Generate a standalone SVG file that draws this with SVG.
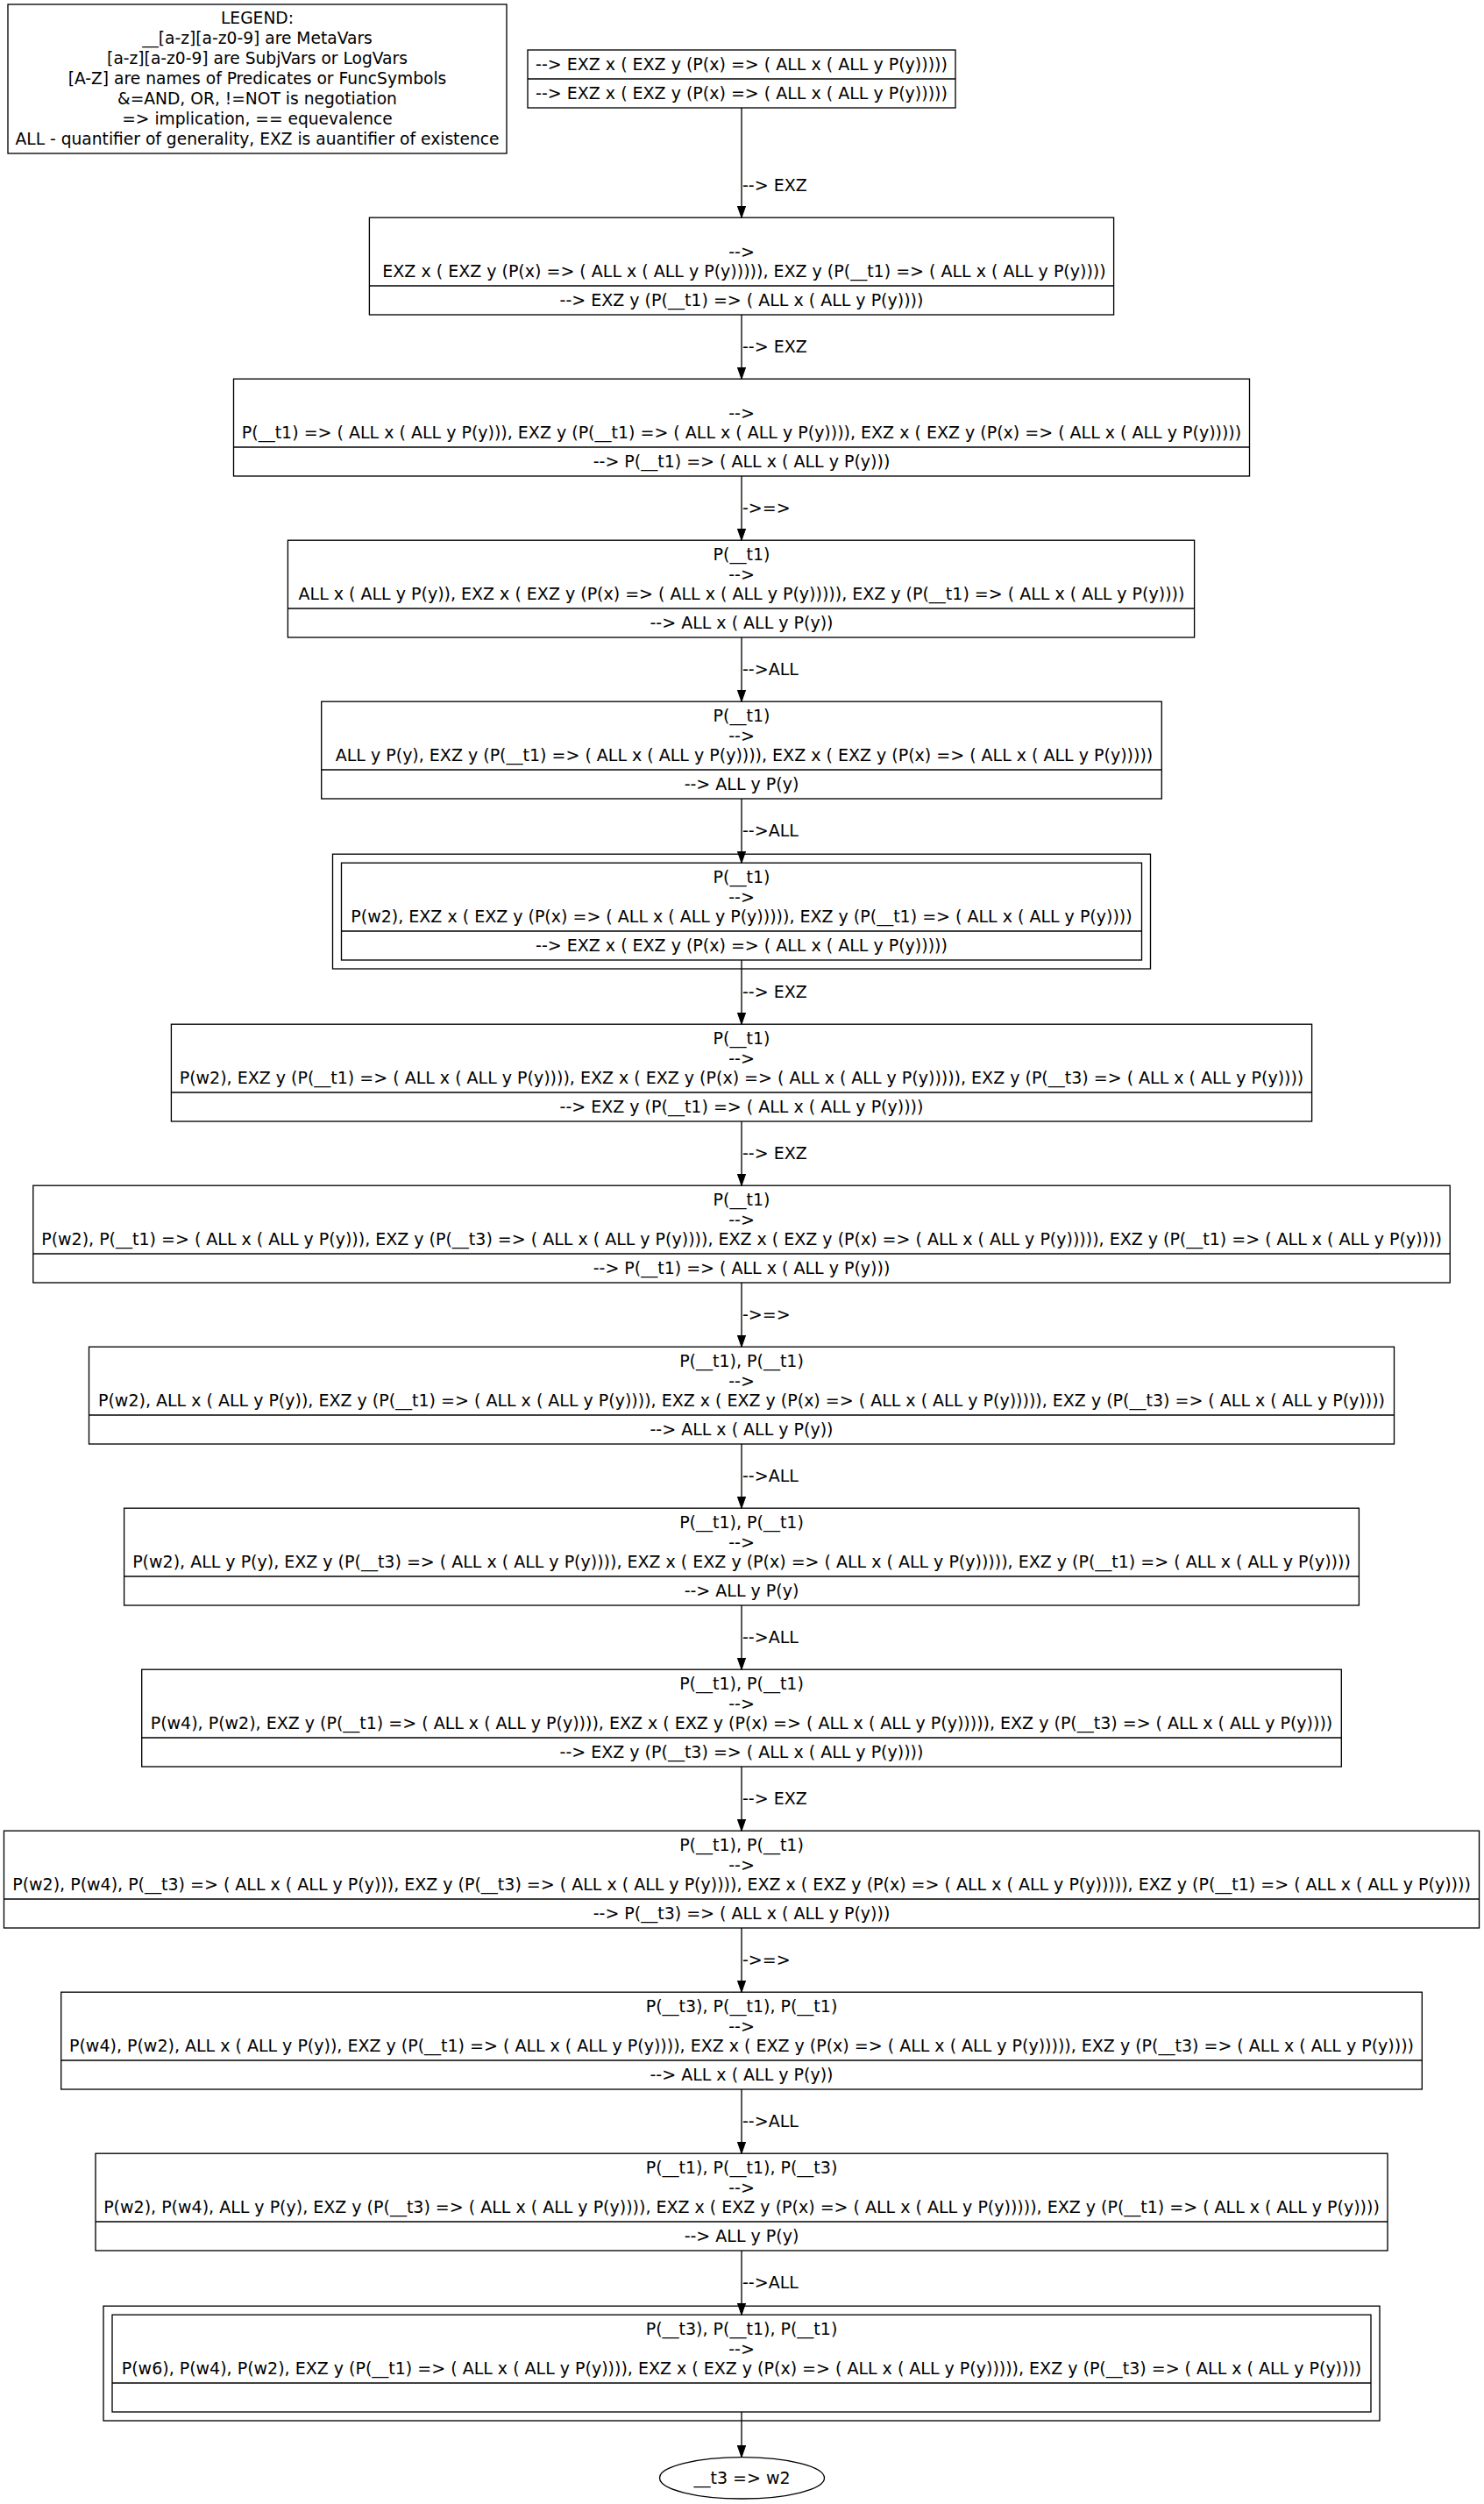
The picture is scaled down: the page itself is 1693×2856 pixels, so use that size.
<svg xmlns="http://www.w3.org/2000/svg" width="1693" height="2856" viewBox="0 0 1693 2856">
<defs>
<marker id="arr" markerUnits="userSpaceOnUse" markerWidth="14" markerHeight="10" refX="13.3" refY="4.67" orient="auto">
<path d="M0,0 L13.3,4.67 L0,9.33 z" fill="#000" stroke="#000" stroke-width="1"/>
</marker>
<style>
text{font-family:"DejaVu Sans","Liberation Sans",sans-serif;font-size:19px;fill:#000}
#legend text{font-size:18.67px}
.c{text-anchor:middle}
.box{fill:#fff;stroke:#000;stroke-width:1.33}
.ln{stroke:#000;stroke-width:1.33;fill:none}
.e{stroke:#000;stroke-width:1.33;fill:none;marker-end:url(#arr)}
</style>
</defs>
<rect x="0" y="0" width="1693" height="2856" fill="#fff"/>

<g id="legend">
<rect class="box" x="9" y="5" width="569" height="170"/>
<text class="c" x="293.5" y="26.5">LEGEND:</text>
<text class="c" x="293.5" y="49.6">__[a-z][a-z0-9] are MetaVars</text>
<text class="c" x="293.5" y="72.7">[a-z][a-z0-9] are SubjVars or LogVars</text>
<text class="c" x="293.5" y="95.8">[A-Z] are names of Predicates or FuncSymbols</text>
<text class="c" x="293.5" y="118.9">&amp;=AND, OR, !=NOT is negotiation</text>
<text class="c" x="293.5" y="142">=&gt; implication, == equevalence</text>
<text class="c" x="293.5" y="165.1">ALL - quantifier of generality, EXZ is auantifier of existence</text>
</g>

<g id="n1">
<rect class="box" x="602" y="57" width="488" height="66"/>
<line class="ln" x1="602" y1="90" x2="1090" y2="90"/>
<text class="c" x="846" y="80">--&gt; EXZ x ( EXZ y (P(x) =&gt; ( ALL x ( ALL y P(y)))))</text>
<text class="c" x="846" y="113">--&gt; EXZ x ( EXZ y (P(x) =&gt; ( ALL x ( ALL y P(y)))))</text>
</g>

<g id="n2">
<rect class="box" x="421.4" y="248.2" width="849.2" height="110.8"/>
<line class="ln" x1="421.4" y1="326" x2="1270.6" y2="326"/>
<text class="c" x="846" y="293.6">--&gt;</text>
<text class="c" x="849" y="316">EXZ x ( EXZ y (P(x) =&gt; ( ALL x ( ALL y P(y))))), EXZ y (P(__t1) =&gt; ( ALL x ( ALL y P(y))))</text>
<text class="c" x="846" y="349">--&gt; EXZ y (P(__t1) =&gt; ( ALL x ( ALL y P(y))))</text>
</g>

<g id="n3">
<rect class="box" x="266.5" y="432.2" width="1159" height="110.8"/>
<line class="ln" x1="266.5" y1="510" x2="1425.5" y2="510"/>
<text class="c" x="846" y="477.6">--&gt;</text>
<text class="c" x="846" y="500">P(__t1) =&gt; ( ALL x ( ALL y P(y))), EXZ y (P(__t1) =&gt; ( ALL x ( ALL y P(y)))), EXZ x ( EXZ y (P(x) =&gt; ( ALL x ( ALL y P(y)))))</text>
<text class="c" x="846" y="533">--&gt; P(__t1) =&gt; ( ALL x ( ALL y P(y)))</text>
</g>

<g id="n4">
<rect class="box" x="328.4" y="616.2" width="1034.2" height="110.8"/>
<line class="ln" x1="328.4" y1="694" x2="1362.6" y2="694"/>
<text class="c" x="846" y="639.2">P(__t1)</text>
<text class="c" x="846" y="661.6">--&gt;</text>
<text class="c" x="846" y="684">ALL x ( ALL y P(y)), EXZ x ( EXZ y (P(x) =&gt; ( ALL x ( ALL y P(y))))), EXZ y (P(__t1) =&gt; ( ALL x ( ALL y P(y))))</text>
<text class="c" x="846" y="717">--&gt; ALL x ( ALL y P(y))</text>
</g>

<g id="n5">
<rect class="box" x="366.7" y="800.2" width="958.6" height="110.8"/>
<line class="ln" x1="366.7" y1="878" x2="1325.3" y2="878"/>
<text class="c" x="846" y="823.2">P(__t1)</text>
<text class="c" x="846" y="845.6">--&gt;</text>
<text class="c" x="849" y="868">ALL y P(y), EXZ y (P(__t1) =&gt; ( ALL x ( ALL y P(y)))), EXZ x ( EXZ y (P(x) =&gt; ( ALL x ( ALL y P(y)))))</text>
<text class="c" x="846" y="901">--&gt; ALL y P(y)</text>
</g>

<g id="n6">
<rect class="box" x="379.5" y="974.2" width="933" height="130.8"/>
<rect class="box" x="389.5" y="984.2" width="913" height="110.8"/>
<line class="ln" x1="389.5" y1="1062" x2="1302.5" y2="1062"/>
<text class="c" x="846" y="1007.2">P(__t1)</text>
<text class="c" x="846" y="1029.6">--&gt;</text>
<text class="c" x="846" y="1052">P(w2), EXZ x ( EXZ y (P(x) =&gt; ( ALL x ( ALL y P(y))))), EXZ y (P(__t1) =&gt; ( ALL x ( ALL y P(y))))</text>
<text class="c" x="846" y="1085">--&gt; EXZ x ( EXZ y (P(x) =&gt; ( ALL x ( ALL y P(y)))))</text>
</g>

<g id="n7">
<rect class="box" x="195.4" y="1168.2" width="1301.2" height="110.8"/>
<line class="ln" x1="195.4" y1="1246" x2="1496.6" y2="1246"/>
<text class="c" x="846" y="1191.2">P(__t1)</text>
<text class="c" x="846" y="1213.6">--&gt;</text>
<text class="c" x="846" y="1236">P(w2), EXZ y (P(__t1) =&gt; ( ALL x ( ALL y P(y)))), EXZ x ( EXZ y (P(x) =&gt; ( ALL x ( ALL y P(y))))), EXZ y (P(__t3) =&gt; ( ALL x ( ALL y P(y))))</text>
<text class="c" x="846" y="1269">--&gt; EXZ y (P(__t1) =&gt; ( ALL x ( ALL y P(y))))</text>
</g>

<g id="n8">
<rect class="box" x="37.8" y="1352.2" width="1616.4" height="110.8"/>
<line class="ln" x1="37.8" y1="1430" x2="1654.2" y2="1430"/>
<text class="c" x="846" y="1375.2">P(__t1)</text>
<text class="c" x="846" y="1397.6">--&gt;</text>
<text class="c" x="846" y="1420">P(w2), P(__t1) =&gt; ( ALL x ( ALL y P(y))), EXZ y (P(__t3) =&gt; ( ALL x ( ALL y P(y)))), EXZ x ( EXZ y (P(x) =&gt; ( ALL x ( ALL y P(y))))), EXZ y (P(__t1) =&gt; ( ALL x ( ALL y P(y))))</text>
<text class="c" x="846" y="1453">--&gt; P(__t1) =&gt; ( ALL x ( ALL y P(y)))</text>
</g>

<g id="n9">
<rect class="box" x="101.5" y="1536.2" width="1489" height="110.8"/>
<line class="ln" x1="101.5" y1="1614" x2="1590.5" y2="1614"/>
<text class="c" x="846" y="1559.2">P(__t1), P(__t1)</text>
<text class="c" x="846" y="1581.6">--&gt;</text>
<text class="c" x="846" y="1604">P(w2), ALL x ( ALL y P(y)), EXZ y (P(__t1) =&gt; ( ALL x ( ALL y P(y)))), EXZ x ( EXZ y (P(x) =&gt; ( ALL x ( ALL y P(y))))), EXZ y (P(__t3) =&gt; ( ALL x ( ALL y P(y))))</text>
<text class="c" x="846" y="1637">--&gt; ALL x ( ALL y P(y))</text>
</g>

<g id="n10">
<rect class="box" x="141.6" y="1720.2" width="1408.8" height="110.8"/>
<line class="ln" x1="141.6" y1="1798" x2="1550.4" y2="1798"/>
<text class="c" x="846" y="1743.2">P(__t1), P(__t1)</text>
<text class="c" x="846" y="1765.6">--&gt;</text>
<text class="c" x="846" y="1788">P(w2), ALL y P(y), EXZ y (P(__t3) =&gt; ( ALL x ( ALL y P(y)))), EXZ x ( EXZ y (P(x) =&gt; ( ALL x ( ALL y P(y))))), EXZ y (P(__t1) =&gt; ( ALL x ( ALL y P(y))))</text>
<text class="c" x="846" y="1821">--&gt; ALL y P(y)</text>
</g>

<g id="n11">
<rect class="box" x="161.7" y="1904.2" width="1368.6" height="110.8"/>
<line class="ln" x1="161.7" y1="1982" x2="1530.3" y2="1982"/>
<text class="c" x="846" y="1927.2">P(__t1), P(__t1)</text>
<text class="c" x="846" y="1949.6">--&gt;</text>
<text class="c" x="846" y="1972">P(w4), P(w2), EXZ y (P(__t1) =&gt; ( ALL x ( ALL y P(y)))), EXZ x ( EXZ y (P(x) =&gt; ( ALL x ( ALL y P(y))))), EXZ y (P(__t3) =&gt; ( ALL x ( ALL y P(y))))</text>
<text class="c" x="846" y="2005">--&gt; EXZ y (P(__t3) =&gt; ( ALL x ( ALL y P(y))))</text>
</g>

<g id="n12">
<rect class="box" x="4.5" y="2088.2" width="1683" height="110.8"/>
<line class="ln" x1="4.5" y1="2166" x2="1687.5" y2="2166"/>
<text class="c" x="846" y="2111.2">P(__t1), P(__t1)</text>
<text class="c" x="846" y="2133.6">--&gt;</text>
<text class="c" x="846" y="2156">P(w2), P(w4), P(__t3) =&gt; ( ALL x ( ALL y P(y))), EXZ y (P(__t3) =&gt; ( ALL x ( ALL y P(y)))), EXZ x ( EXZ y (P(x) =&gt; ( ALL x ( ALL y P(y))))), EXZ y (P(__t1) =&gt; ( ALL x ( ALL y P(y))))</text>
<text class="c" x="846" y="2189">--&gt; P(__t3) =&gt; ( ALL x ( ALL y P(y)))</text>
</g>

<g id="n13">
<rect class="box" x="69.7" y="2272.2" width="1552.6" height="110.8"/>
<line class="ln" x1="69.7" y1="2350" x2="1622.3" y2="2350"/>
<text class="c" x="846" y="2295.2">P(__t3), P(__t1), P(__t1)</text>
<text class="c" x="846" y="2317.6">--&gt;</text>
<text class="c" x="846" y="2340">P(w4), P(w2), ALL x ( ALL y P(y)), EXZ y (P(__t1) =&gt; ( ALL x ( ALL y P(y)))), EXZ x ( EXZ y (P(x) =&gt; ( ALL x ( ALL y P(y))))), EXZ y (P(__t3) =&gt; ( ALL x ( ALL y P(y))))</text>
<text class="c" x="846" y="2373">--&gt; ALL x ( ALL y P(y))</text>
</g>

<g id="n14">
<rect class="box" x="109" y="2456.2" width="1474" height="110.8"/>
<line class="ln" x1="109" y1="2534" x2="1583" y2="2534"/>
<text class="c" x="846" y="2479.2">P(__t1), P(__t1), P(__t3)</text>
<text class="c" x="846" y="2501.6">--&gt;</text>
<text class="c" x="846" y="2524">P(w2), P(w4), ALL y P(y), EXZ y (P(__t3) =&gt; ( ALL x ( ALL y P(y)))), EXZ x ( EXZ y (P(x) =&gt; ( ALL x ( ALL y P(y))))), EXZ y (P(__t1) =&gt; ( ALL x ( ALL y P(y))))</text>
<text class="c" x="846" y="2557">--&gt; ALL y P(y)</text>
</g>

<g id="n15">
<rect class="box" x="118" y="2630.2" width="1456" height="130.8"/>
<rect class="box" x="128" y="2640.2" width="1436" height="110.8"/>
<line class="ln" x1="128" y1="2718" x2="1564" y2="2718"/>
<text class="c" x="846" y="2663.2">P(__t3), P(__t1), P(__t1)</text>
<text class="c" x="846" y="2685.6">--&gt;</text>
<text class="c" x="846" y="2708">P(w6), P(w4), P(w2), EXZ y (P(__t1) =&gt; ( ALL x ( ALL y P(y)))), EXZ x ( EXZ y (P(x) =&gt; ( ALL x ( ALL y P(y))))), EXZ y (P(__t3) =&gt; ( ALL x ( ALL y P(y))))</text>
</g>

<g id="n16">
<ellipse class="box" cx="846.5" cy="2826.3" rx="94" ry="23.7"/>
<text class="c" x="846.5" y="2832.8">__t3 =&gt; w2</text>
</g>

<g id="edges">
<line class="e" x1="846" y1="123" x2="846" y2="248.2"/>
<line class="e" x1="846" y1="359" x2="846" y2="432.2"/>
<line class="e" x1="846" y1="543" x2="846" y2="616.2"/>
<line class="e" x1="846" y1="727" x2="846" y2="800.2"/>
<line class="e" x1="846" y1="911" x2="846" y2="984.2"/>
<line class="e" x1="846" y1="1095" x2="846" y2="1168.2"/>
<line class="e" x1="846" y1="1279" x2="846" y2="1352.2"/>
<line class="e" x1="846" y1="1463" x2="846" y2="1536.2"/>
<line class="e" x1="846" y1="1647" x2="846" y2="1720.2"/>
<line class="e" x1="846" y1="1831" x2="846" y2="1904.2"/>
<line class="e" x1="846" y1="2015" x2="846" y2="2088.2"/>
<line class="e" x1="846" y1="2199" x2="846" y2="2272.2"/>
<line class="e" x1="846" y1="2383" x2="846" y2="2456.2"/>
<line class="e" x1="846" y1="2567" x2="846" y2="2640.2"/>
<line class="e" x1="846" y1="2751" x2="846" y2="2802.6"/>
<text x="847" y="218.1">--&gt; EXZ</text>
<text x="847" y="402.1">--&gt; EXZ</text>
<text x="847" y="586.1">-&gt;=&gt;</text>
<text x="847" y="770.1">--&gt;ALL</text>
<text x="847" y="954.1">--&gt;ALL</text>
<text x="847" y="1138.1">--&gt; EXZ</text>
<text x="847" y="1322.1">--&gt; EXZ</text>
<text x="847" y="1506.1">-&gt;=&gt;</text>
<text x="847" y="1690.1">--&gt;ALL</text>
<text x="847" y="1874.1">--&gt;ALL</text>
<text x="847" y="2058.1">--&gt; EXZ</text>
<text x="847" y="2242.1">-&gt;=&gt;</text>
<text x="847" y="2426.1">--&gt;ALL</text>
<text x="847" y="2610.1">--&gt;ALL</text>
</g>
</svg>
